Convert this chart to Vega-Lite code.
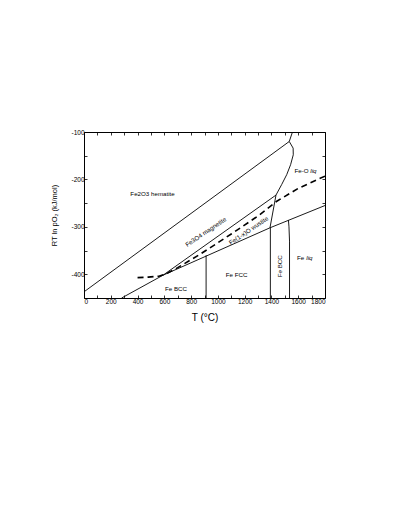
{
  "$schema": "https://vega.github.io/schema/vega-lite/v6.json",
  "width": 241,
  "height": 166,
  "autosize": {"type": "none"},
  "padding": {"left": 84, "top": 132, "right": 74, "bottom": 218},
  "background": "white",
  "config": {
    "view": {"stroke": "black", "strokeWidth": 1},
    "axis": {
      "domain": false, "grid": false, "tickColor": "black", "tickSize": -3, "tickWidth": 0.8,
      "labelFont": "Liberation Sans", "labelFontSize": 6.5, "labelColor": "black", "labelPadding": 3,
      "titleFont": "Liberation Sans", "titleColor": "black", "titleFontWeight": "normal"
    },
    "text": {"font": "Liberation Sans", "fontSize": 6.2, "color": "black", "baseline": "middle"}
  },
  "datasets": {
    "solid": [
      {"s": "A", "o": 1, "T": 0, "v": -437},
      {"s": "A", "o": 2, "T": 1533, "v": -120},
      {"s": "A2", "o": 1, "T": 1533, "v": -120},
      {"s": "A2", "o": 2, "T": 1557, "v": -100},
      {"s": "B", "o": 1, "T": 281, "v": -450},
      {"s": "B", "o": 2, "T": 590, "v": -402},
      {"s": "B", "o": 3, "T": 1389, "v": -302},
      {"s": "B", "o": 4, "T": 1800, "v": -255},
      {"s": "C", "o": 1, "T": 590, "v": -402},
      {"s": "C", "o": 2, "T": 1434, "v": -233},
      {"s": "D", "o": 1, "T": 1389, "v": -302},
      {"s": "D", "o": 2, "T": 1434, "v": -233},
      {"s": "E", "o": 1, "T": 1434, "v": -233},
      {"s": "E", "o": 2, "T": 1476, "v": -211},
      {"s": "E", "o": 3, "T": 1514, "v": -190},
      {"s": "E", "o": 4, "T": 1543, "v": -169},
      {"s": "E", "o": 5, "T": 1563, "v": -148},
      {"s": "E", "o": 6, "T": 1562, "v": -134},
      {"s": "E", "o": 7, "T": 1533, "v": -120},
      {"s": "V1", "o": 1, "T": 912, "v": -450},
      {"s": "V1", "o": 2, "T": 912, "v": -360},
      {"s": "V2", "o": 1, "T": 1392, "v": -450},
      {"s": "V2", "o": 2, "T": 1392, "v": -302},
      {"s": "V3", "o": 1, "T": 1535, "v": -450},
      {"s": "V3", "o": 2, "T": 1535, "v": -330},
      {"s": "V3", "o": 3, "T": 1531, "v": -300},
      {"s": "V3", "o": 4, "T": 1527, "v": -286}
    ],
    "dashed": [
      {"o": 1, "T": 400, "v": -407},
      {"o": 2, "T": 480, "v": -406},
      {"o": 3, "T": 560, "v": -404},
      {"o": 4, "T": 620, "v": -398},
      {"o": 5, "T": 700, "v": -386},
      {"o": 6, "T": 866, "v": -358},
      {"o": 7, "T": 1100, "v": -315},
      {"o": 8, "T": 1300, "v": -277},
      {"o": 9, "T": 1440, "v": -246},
      {"o": 10, "T": 1600, "v": -219},
      {"o": 11, "T": 1800, "v": -193}
    ],
    "labels": [
      {"t": "Fe2O3 hematite", "T": 512, "v": -230, "a": 0},
      {"t": "Fe3O4 magnetite", "T": 910, "v": -311, "a": -34},
      {"t": "Fe(1-x)O wustite", "T": 1230, "v": -308, "a": -34},
      {"t": "Fe BCC", "T": 687, "v": -430, "a": 0},
      {"t": "Fe FCC", "T": 1140, "v": -401, "a": 0},
      {"t": "Fe BCC", "T": 1464, "v": -383, "a": -90}
    ],
    "plainR": [
      {"t": "Fe-O", "T": 1678, "v": -182},
      {"t": "Fe", "T": 1645, "v": -366}
    ],
    "italicL": [
      {"t": "liq", "T": 1690, "v": -182},
      {"t": "liq", "T": 1660, "v": -366}
    ]
  },
  "layer": [
    {
      "data": {"name": "solid"},
      "mark": {"type": "line", "color": "black", "strokeWidth": 0.9, "clip": true},
      "encoding": {
        "x": {"field": "T", "type": "quantitative",
              "scale": {"domain": [0, 1800], "nice": false},
              "axis": {"orient": "bottom", "values": [0,100,200,300,400,500,600,700,800,900,1000,1100,1200,1300,1400,1500,1600,1700,1800],
                       "labelExpr": "datum.value % 200 == 0 ? '' + datum.value : ''",
                       "title": "T (°C)", "titleFontSize": 10, "titlePadding": 8}},
        "y": {"field": "v", "type": "quantitative",
              "scale": {"domain": [-450, -100], "nice": false},
              "axis": {"orient": "left", "values": [-450,-400,-350,-300,-250,-200,-150,-100],
                       "labelExpr": "datum.value % 100 == 0 ? '' + datum.value : ''",
                       "title": "RT ln pO₂ (kJ/mol)", "titleFontSize": 7.5, "titlePadding": 12}},
        "detail": {"field": "s"},
        "order": {"field": "o"}
      }
    },
    {
      "data": {"name": "dashed"},
      "mark": {"type": "line", "color": "black", "strokeWidth": 1.6, "strokeDash": [6, 4], "clip": true},
      "encoding": {
        "x": {"field": "T", "type": "quantitative",
              "axis": {"orient": "top", "values": [0,100,200,300,400,500,600,700,800,900,1000,1100,1200,1300,1400,1500,1600,1700,1800], "labels": false, "title": null}},
        "y": {"field": "v", "type": "quantitative",
              "axis": {"orient": "right", "values": [-450,-400,-350,-300,-250,-200,-150,-100], "labels": false, "title": null}},
        "order": {"field": "o"}
      }
    },
    {
      "data": {"name": "labels"},
      "mark": {"type": "text", "align": "center"},
      "encoding": {
        "x": {"field": "T", "type": "quantitative", "axis": null},
        "y": {"field": "v", "type": "quantitative", "axis": null},
        "text": {"field": "t"},
        "angle": {"field": "a", "type": "quantitative", "scale": null}
      }
    },
    {
      "data": {"name": "plainR"},
      "mark": {"type": "text", "align": "right"},
      "encoding": {
        "x": {"field": "T", "type": "quantitative", "axis": null},
        "y": {"field": "v", "type": "quantitative", "axis": null},
        "text": {"field": "t"}
      }
    },
    {
      "data": {"name": "italicL"},
      "mark": {"type": "text", "align": "left", "fontStyle": "italic"},
      "encoding": {
        "x": {"field": "T", "type": "quantitative", "axis": null},
        "y": {"field": "v", "type": "quantitative", "axis": null},
        "text": {"field": "t"}
      }
    }
  ],
  "resolve": {"axis": {"x": "independent", "y": "independent"}}
}
